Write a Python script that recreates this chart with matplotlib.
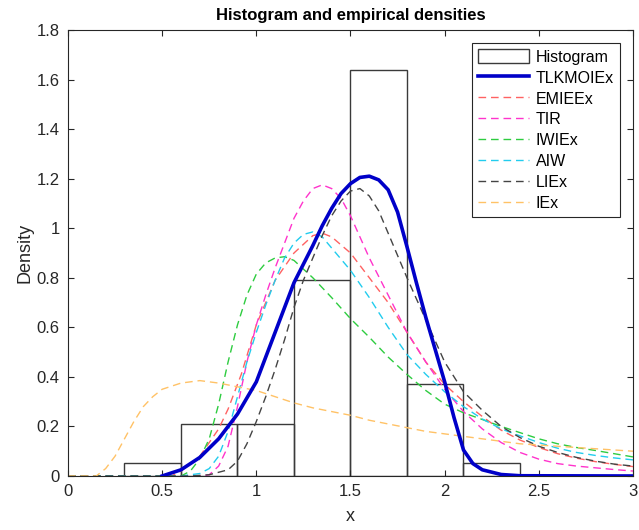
import matplotlib
matplotlib.use("Agg")
import matplotlib.pyplot as plt
from matplotlib.ticker import FuncFormatter

# histogram
bin_edges = [0.3, 0.6, 0.9, 1.2, 1.5, 1.8, 2.1, 2.4]
bin_density = [0.053, 0.21, 0.21, 0.79, 1.64, 0.37, 0.053]

# fitted densities, values
tlk_x = [0.5, 0.6, 0.7, 0.8, 0.9, 1.0, 1.1, 1.2, 1.3, 1.35, 1.4, 1.45, 1.5, 1.55, 1.6,
         1.65, 1.7, 1.75, 1.8, 1.85, 1.9, 1.95, 2.0, 2.05, 2.1, 2.15, 2.2, 2.3, 2.4, 3.0]
tlk_y = [0, 0.025, 0.075, 0.15, 0.25, 0.38, 0.58, 0.78, 0.93, 1.01, 1.08, 1.14, 1.18, 1.205, 1.21,
         1.195, 1.155, 1.065, 0.925, 0.78, 0.64, 0.51, 0.38, 0.235, 0.105, 0.05, 0.025, 0.006, 0.001, 0]

emieex_x = [0, 0.55, 0.6, 0.7, 0.8, 0.85, 0.92, 1.0, 1.1, 1.2, 1.3, 1.35, 1.4, 1.5, 1.6,
            1.7, 1.8, 1.9, 2.0, 2.1, 2.2, 2.3, 2.4, 2.5, 2.6, 2.7, 2.8, 2.9, 3.0]
emieex_y = [0, 0, 0.02, 0.08, 0.19, 0.27, 0.41, 0.61, 0.79, 0.90, 0.97, 0.98, 0.965, 0.90, 0.80,
            0.70, 0.58, 0.46, 0.37, 0.30, 0.24, 0.185, 0.145, 0.115, 0.09, 0.072, 0.058, 0.047, 0.038]

tir_x = [0, 0.7, 0.75, 0.8, 0.85, 0.9, 0.95, 1.0, 1.05, 1.1, 1.15, 1.2, 1.25, 1.3, 1.35,
         1.4, 1.45, 1.5, 1.6, 1.7, 1.8, 1.9, 2.0, 2.1, 2.2, 2.3, 2.4, 2.5, 2.6, 2.7, 2.8, 2.9, 3.0]
tir_y = [0, 0, 0.005, 0.04, 0.12, 0.28, 0.46, 0.61, 0.73, 0.84, 0.94, 1.04, 1.11, 1.16, 1.175,
         1.16, 1.12, 1.05, 0.88, 0.73, 0.58, 0.46, 0.35, 0.26, 0.19, 0.135, 0.095, 0.068, 0.05, 0.04,
         0.033, 0.026, 0.02]

iwiex_x = [0, 0.6, 0.65, 0.7, 0.75, 0.8, 0.85, 0.9, 0.95, 1.0, 1.05, 1.1, 1.15, 1.2, 1.3,
           1.4, 1.5, 1.6, 1.7, 1.8, 1.9, 2.0, 2.1, 2.2, 2.3, 2.4, 2.5, 2.6, 2.7, 2.8, 2.9, 3.0]
iwiex_y = [0, 0, 0.02, 0.07, 0.15, 0.29, 0.46, 0.61, 0.73, 0.815, 0.86, 0.88, 0.885, 0.87, 0.80,
           0.72, 0.635, 0.56, 0.48, 0.41, 0.345, 0.29, 0.255, 0.228, 0.20, 0.175, 0.15, 0.13, 0.115,
           0.103, 0.09, 0.077]

aiw_x = [0, 0.6, 0.7, 0.75, 0.8, 0.85, 0.9, 0.95, 1.0, 1.05, 1.1, 1.15, 1.2, 1.25, 1.3,
         1.35, 1.4, 1.5, 1.6, 1.7, 1.8, 1.9, 2.0, 2.1, 2.2, 2.3, 2.4, 2.5, 2.6, 2.7, 2.8, 2.9, 3.0]
aiw_y = [0, 0, 0.01, 0.03, 0.08, 0.18, 0.32, 0.46, 0.58, 0.69, 0.79, 0.88, 0.94, 0.975, 0.985,
         0.965, 0.92, 0.83, 0.72, 0.60, 0.49, 0.41, 0.34, 0.28, 0.23, 0.19, 0.162, 0.135, 0.112,
         0.095, 0.083, 0.073, 0.065]

liex_x = [0, 0.65, 0.75, 0.85, 0.9, 0.95, 1.0, 1.05, 1.1, 1.15, 1.2, 1.25, 1.3, 1.35, 1.4,
          1.45, 1.5, 1.55, 1.6, 1.65, 1.7, 1.8, 1.9, 2.0, 2.1, 2.2, 2.3, 2.4, 2.5, 2.6, 2.7,
          2.8, 2.9, 3.0]
liex_y = [0, 0, 0.005, 0.025, 0.06, 0.13, 0.22, 0.32, 0.43, 0.55, 0.68, 0.79, 0.88, 0.97, 1.05,
          1.11, 1.15, 1.16, 1.13, 1.07, 0.98, 0.80, 0.63, 0.46, 0.34, 0.265, 0.20, 0.155, 0.12,
          0.095, 0.075, 0.06, 0.048, 0.04]

iex_x = [0, 0.15, 0.2, 0.25, 0.3, 0.35, 0.4, 0.45, 0.5, 0.6, 0.7, 0.8, 0.9, 1.0, 1.1, 1.2,
         1.3, 1.4, 1.5, 1.6, 1.7, 1.8, 1.9, 2.0, 2.2, 2.4, 2.6, 2.8, 3.0]
iex_y = [0, 0, 0.03, 0.08, 0.15, 0.22, 0.28, 0.32, 0.35, 0.375, 0.385, 0.375, 0.36, 0.345, 0.32,
         0.295, 0.275, 0.26, 0.245, 0.225, 0.21, 0.195, 0.18, 0.17, 0.15, 0.13, 0.12, 0.11, 0.10]

plt.rcParams["font.family"] = ["Liberation Sans", "DejaVu Sans"]
TXT = "#262626"

fig = plt.figure(figsize=(6.39, 5.30), dpi=100)
ax = fig.add_axes([0.1064, 0.1019, 0.8842, 0.8415])

widths = [b - a for a, b in zip(bin_edges[:-1], bin_edges[1:])]
bars = ax.bar(bin_edges[:-1], bin_density, width=widths, align="edge", facecolor="none",
              edgecolor="#3a3a3a", linewidth=1.0, label="Histogram")
handles = [bars]

(line,) = ax.plot(tlk_x, tlk_y, color="#0000C8", lw=2.6, label="TLKMOIEx", zorder=5)
handles.append(line)
dashed = [
    (emieex_x, emieex_y, "#FF6262", "EMIEEx"),
    (tir_x, tir_y, "#FF33CC", "TIR"),
    (iwiex_x, iwiex_y, "#2ECC40", "IWIEx"),
    (aiw_x, aiw_y, "#22CCEE", "AIW"),
    (liex_x, liex_y, "#444444", "LIEx"),
    (iex_x, iex_y, "#FFC266", "IEx"),
]
for xs, ys, c, name in dashed:
    (line,) = ax.plot(xs, ys, color=c, lw=1.0, dashes=(5.5, 3.5), label=name)
    handles.append(line)

ax.set_xlim(0, 3)
ax.set_ylim(0, 1.8)
ax.set_xticks([0, 0.5, 1, 1.5, 2, 2.5, 3])
ax.set_yticks([0, 0.2, 0.4, 0.6, 0.8, 1, 1.2, 1.4, 1.6, 1.8])
fmt = FuncFormatter(lambda v, p: f"{v:g}")
ax.xaxis.set_major_formatter(fmt)
ax.yaxis.set_major_formatter(fmt)
ax.tick_params(direction="in", top=True, right=True, length=4, width=0.8,
               labelsize=12, colors=TXT, pad=6)
for s in ax.spines.values():
    s.set_color(TXT)
    s.set_linewidth(0.8)

ax.set_title("Histogram and empirical densities", fontsize=12, fontweight="bold",
             color="black", pad=7)
ax.set_xlabel("x", fontsize=13, color=TXT, labelpad=6)
ax.set_ylabel("Density", fontsize=13, color=TXT, labelpad=2)

leg = ax.legend(handles=handles, loc="upper right", fontsize=11.5, handlelength=3.2,
                handleheight=1.0, labelspacing=0.33, borderaxespad=0.8, fancybox=False,
                framealpha=1, handletextpad=0.4, borderpad=0.4)
leg.get_frame().set_edgecolor(TXT)
leg.get_frame().set_linewidth(0.8)
for t in leg.get_texts():
    t.set_color("black")

fig.savefig("out.png", dpi=100)
